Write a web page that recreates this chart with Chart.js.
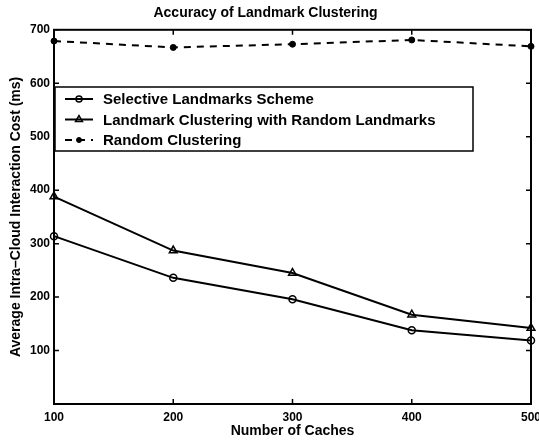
<!DOCTYPE html>
<html lang="en">
<head>
  <meta charset="UTF-8" />
  <title>Accuracy of Landmark Clustering</title>
  <script src="https://cdn.jsdelivr.net/npm/chart.js"></script>
  <style>
    body { margin: 0; background: white; }
    .chart-container { position: relative; width: 539px; height: 442px; }
  </style>
</head>
<body>
  <div class="chart-container">
    <canvas id="accChart"></canvas>
  </div>

  <script>
    const caches = [100, 200, 300, 400, 500];
    const selective = [314, 236, 196, 138, 119];
    const randomLandmarks = [388, 287, 245, 167, 142];
    const randomClustering = [679, 667, 673, 681, 669];
    const yTicks = [100, 200, 300, 400, 500, 600, 700];

    const FONT = '"Liberation Sans", Arial, Helvetica, sans-serif';

    const toPoints = vals => vals.map((v, i) => ({ x: caches[i], y: v }));

    // box round the plot with inward tick marks
    const frame = {
      id: 'frame',
      afterDatasetsDraw(chart) {
        const { ctx, chartArea: a, scales } = chart;
        ctx.save();
        ctx.strokeStyle = '#000';
        ctx.lineWidth = 2;
        ctx.strokeRect(a.left, a.top, a.right - a.left, a.bottom - a.top);
        ctx.lineWidth = 1.5;
        ctx.beginPath();
        caches.forEach(c => {
          const x = scales.x.getPixelForValue(c);
          ctx.moveTo(x, a.bottom); ctx.lineTo(x, a.bottom - 5);
          ctx.moveTo(x, a.top); ctx.lineTo(x, a.top + 5);
        });
        yTicks.forEach(t => {
          const y = scales.y.getPixelForValue(t);
          ctx.moveTo(a.left, y); ctx.lineTo(a.left + 5, y);
          ctx.moveTo(a.right, y); ctx.lineTo(a.right - 5, y);
        });
        ctx.stroke();
        ctx.restore();
      }
    };

    // legend box inside the plot, upper left
    const legendRadius = [3, 4, 2.5];
    const boxLegend = {
      id: 'boxLegend',
      afterDraw(chart) {
        const ctx = chart.ctx;
        const left = 55, top = 87, width = 418, height = 64;
        ctx.save();
        ctx.fillStyle = '#fff';
        ctx.fillRect(left, top, width, height);
        ctx.strokeStyle = '#000';
        ctx.lineWidth = 1.5;
        ctx.strokeRect(left, top, width, height);
        ctx.font = 'bold 15px ' + FONT;
        ctx.textBaseline = 'middle';
        chart.data.datasets.forEach((ds, i) => {
          const y = top + 12 + i * 20.5;
          ctx.strokeStyle = '#000';
          ctx.lineWidth = 2;
          ctx.setLineDash(ds.borderDash || []);
          ctx.beginPath();
          ctx.moveTo(65, y); ctx.lineTo(93, y);
          ctx.stroke();
          ctx.setLineDash([]);
          ctx.fillStyle = ds.pointBackgroundColor;
          ctx.lineWidth = ds.pointBorderWidth;
          Chart.helpers.drawPoint(ctx, {
            pointStyle: ds.pointStyle,
            radius: legendRadius[i],
            rotation: 0,
            borderWidth: ds.pointBorderWidth
          }, 79, y);
          ctx.fillStyle = '#000';
          ctx.fillText(ds.label, 103, y + 1);
        });
        ctx.restore();
      }
    };

    new Chart(document.getElementById('accChart'), {
      type: 'line',
      data: {
        datasets: [
          {
            label: 'Selective Landmarks Scheme',
            data: toPoints(selective),
            borderColor: '#000',
            borderWidth: 2,
            pointStyle: 'circle',
            pointRadius: 3.5,
            pointBorderWidth: 1.5,
            pointBorderColor: '#000',
            pointBackgroundColor: 'rgba(0,0,0,0)'
          },
          {
            label: 'Landmark Clustering with Random Landmarks',
            data: toPoints(randomLandmarks),
            borderColor: '#000',
            borderWidth: 2,
            pointStyle: 'triangle',
            pointRadius: 4.5,
            pointBorderWidth: 1.5,
            pointBorderColor: '#000',
            pointBackgroundColor: 'rgba(0,0,0,0)'
          },
          {
            label: 'Random Clustering',
            data: toPoints(randomClustering),
            borderColor: '#000',
            borderWidth: 2,
            borderDash: [7, 6],
            pointStyle: 'circle',
            pointRadius: 3,
            pointBorderWidth: 1,
            pointBorderColor: '#000',
            pointBackgroundColor: '#000'
          }
        ]
      },
      options: {
        responsive: true,
        maintainAspectRatio: false,
        animation: false,
        clip: false,
        layout: { padding: { left: 0, right: 8, top: 0, bottom: 0 } },
        plugins: {
          legend: { display: false },
          tooltip: { enabled: false },
          title: {
            display: true,
            text: 'Accuracy of Landmark Clustering',
            color: '#000',
            font: { family: FONT, size: 14, weight: 'bold' },
            padding: { top: 5, bottom: 8 }
          }
        },
        scales: {
          x: {
            type: 'linear',
            min: 100,
            max: 500,
            afterBuildTicks: s => { s.ticks = caches.map(v => ({ value: v })); },
            afterFit: s => { s.height = 38; s.paddingLeft = 0; s.paddingRight = 0; },
            grid: { display: false, drawTicks: false },
            border: { display: false },
            ticks: {
              color: '#000',
              padding: 6,
              maxRotation: 0,
              font: { family: FONT, size: 12, weight: 'bold' }
            },
            title: {
              display: true,
              text: 'Number of Caches',
              color: '#000',
              font: { family: FONT, size: 14, weight: 'bold' },
              padding: { top: 0, bottom: 2 }
            }
          },
          y: {
            min: 0,
            max: 700,
            afterBuildTicks: s => { s.ticks = yTicks.map(v => ({ value: v })); },
            afterFit: s => { s.width = 54; },
            grid: { display: false, drawTicks: false },
            border: { display: false },
            ticks: {
              color: '#000',
              padding: 4,
              font: { family: FONT, size: 12, weight: 'bold' }
            },
            title: {
              display: true,
              text: 'Average Intra–Cloud Interaction Cost (ms)',
              color: '#000',
              font: { family: FONT, size: 14, weight: 'bold' },
              padding: { top: 8, bottom: 0 }
            }
          }
        }
      },
      plugins: [frame, boxLegend]
    });
  </script>
</body>
</html>
